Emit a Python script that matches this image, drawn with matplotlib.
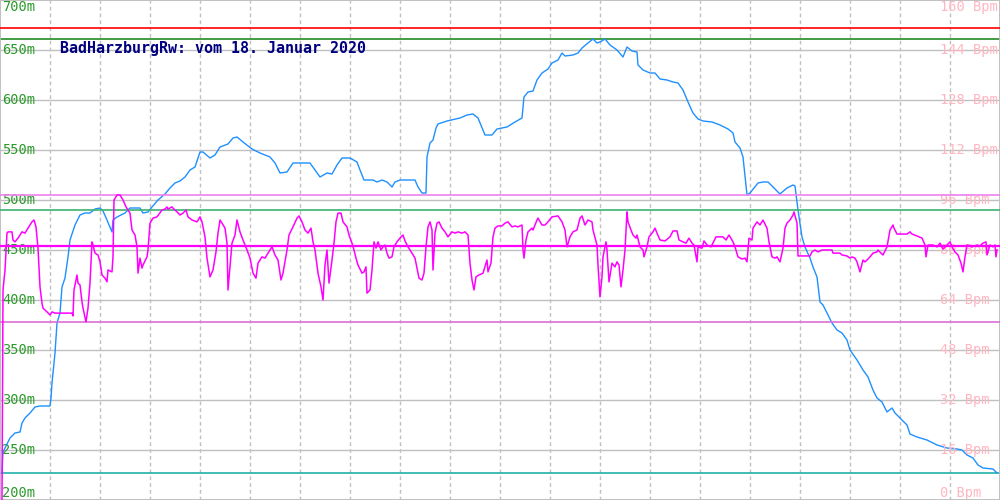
import numpy as np
import matplotlib
matplotlib.use('Agg')
import matplotlib.pyplot as plt

# elevation track (sample position, metres)
elev_x = [2, 3, 10, 15, 20, 22, 25, 30, 35, 40, 50, 51, 52, 55, 57, 60, 62, 65, 68, 70, 75, 80, 85, 90, 95,
          100, 103, 107, 112, 113, 117, 125, 130, 140, 143, 148, 152, 158, 165, 170, 175, 180, 185, 190, 195,
          200, 203, 210, 215, 220, 228, 233, 237, 243, 252, 260, 270, 275, 280, 287, 293, 300, 310, 315, 320,
          327, 332, 337, 342, 350, 357, 360, 364, 373, 377, 382, 387, 392, 395, 400, 415, 418, 422, 426, 427,
          430, 433, 436, 438, 447, 460, 467, 473, 478, 483, 485, 492, 497, 507, 515, 522, 524, 528, 533, 537,
          542, 548, 552, 558, 562, 565, 573, 578, 582, 588, 593, 597, 600, 605, 610, 617, 623, 627, 632, 637,
          638, 643, 650, 655, 660, 667, 673, 678, 683, 688, 693, 698, 703, 712, 720, 728, 733, 735, 740, 743,
          747, 750, 758, 763, 768, 773, 780, 787, 793, 795, 798, 802, 805, 810, 813, 817, 820, 823, 827, 832,
          837, 842, 847, 850, 857, 863, 868, 873, 877, 882, 887, 892, 895, 900, 907, 910, 917, 927, 937, 947,
          957, 962, 967, 973, 978, 983, 993, 997]
elev_m = [227, 248, 262, 267, 268, 277, 282, 287, 293, 294, 294, 302, 317, 347, 377, 387, 413, 422, 443, 460,
          475, 485, 487, 487, 491, 492, 489, 480, 468, 480, 483, 487, 492, 492, 487, 488, 493, 500, 506, 512,
          517, 519, 523, 530, 533, 548, 548, 542, 545, 553, 556, 562, 563, 558, 551, 547, 543, 537, 527, 528,
          537, 537, 537, 530, 523, 527, 526, 535, 542, 542, 538, 530, 520, 520, 518, 520, 518, 513, 518, 520,
          520, 513, 507, 507, 543, 557, 560, 572, 576, 579, 582, 585, 586, 582, 570, 565, 565, 571, 573, 578,
          582, 603, 608, 609, 620, 627, 631, 637, 640, 647, 644, 645, 647, 652, 657, 661, 657, 658, 661, 655,
          650, 643, 653, 649, 648, 635, 630, 627, 627, 621, 620, 618, 617, 610, 598, 587, 581, 579, 578, 575,
          571, 567, 558, 552, 543, 505, 507, 517, 518, 518, 513, 506, 512, 515, 514, 490, 463, 453, 442, 433,
          423, 398, 395, 387, 377, 370, 367, 360, 350, 340, 330, 323, 310, 302, 298, 288, 292, 287, 282, 275,
          266, 263, 260, 255, 252, 251, 250, 245, 242, 235, 232, 231, 227]

# heart rate (sample position, Bpm)
hr_x = [2, 3, 5, 7, 8, 12, 13, 15, 18, 22, 25, 28, 32, 34, 36, 38, 40, 42, 43, 47, 50, 52, 55, 72, 73, 74, 77,
        78, 80, 82, 83, 86, 88, 90, 92, 93, 95, 98, 100, 102, 105, 107, 108, 112, 113, 114, 117, 120, 123, 126,
        130, 132, 135, 137, 138, 140, 142, 143, 147, 148, 150, 153, 157, 162, 165, 167, 168, 172, 173, 177, 180,
        183, 186, 188, 192, 197, 200, 202, 205, 207, 210, 213, 216, 218, 220, 222, 225, 227, 228, 230, 232, 235,
        237, 240, 243, 247, 250, 253, 256, 258, 262, 265, 268, 272, 275, 278, 281, 283, 287, 289, 293, 297, 299,
        302, 305, 308, 311, 313, 315, 318, 321, 323, 325, 327, 329, 332, 334, 336, 338, 341, 343, 347, 349, 352,
        354, 356, 358, 362, 364, 366, 367, 370, 372, 374, 376, 378, 381, 383, 385, 387, 389, 392, 394, 397, 401,
        403, 405, 408, 412, 415, 417, 419, 422, 424, 426, 428, 430, 432, 433, 435, 437, 439, 442, 445, 448, 452,
        455, 458, 462, 465, 468, 470, 472, 474, 476, 479, 483, 487, 488, 491, 493, 495, 498, 502, 505, 508, 512,
        515, 518, 522, 523, 524, 526, 528, 532, 533, 537, 538, 542, 545, 548, 552, 558, 562, 565, 567, 570, 573,
        577, 580, 582, 585, 588, 592, 593, 597, 598, 600, 602, 603, 606, 607, 609, 612, 615, 617, 619, 621, 623,
        625, 627, 628, 631, 633, 636, 637, 640, 643, 644, 647, 649, 653, 655, 657, 660, 665, 670, 673, 677, 679,
        683, 686, 689, 692, 694, 697, 698, 702, 704, 707, 711, 716, 723, 726, 729, 733, 735, 738, 742, 745, 747,
        749, 752, 753, 757, 760, 763, 767, 769, 772, 775, 777, 780, 783, 785, 787, 790, 793, 794, 797, 798, 810,
        812, 815, 818, 822, 832, 833, 840, 842, 847, 850, 852, 855, 857, 860, 863, 865, 867, 870, 873, 877, 878,
        881, 883, 887, 890, 893, 894, 897, 907, 910, 912, 917, 922, 925, 926, 928, 933, 937, 940, 943, 950, 952,
        955, 958, 961, 963, 965, 967, 972, 977, 980, 983, 986, 987, 990, 993, 995, 996, 997]
hr_bpm = [0.0, 67.2, 73.6, 85.4, 85.8, 85.8, 83.2, 82.6, 83.8, 85.8, 85.4, 87.0, 89.0, 89.6, 87.4, 80.6, 68.2,
          63.0, 61.4, 60.2, 59.2, 60.2, 59.8, 59.8, 58.9, 67.2, 72.0, 69.4, 68.8, 63.4, 61.4, 57.0, 61.4, 69.4,
          82.6, 81.6, 79.0, 78.4, 76.2, 72.0, 71.0, 69.8, 73.6, 73.0, 77.8, 96.0, 97.6, 97.6, 96.0, 93.8, 91.8,
          86.4, 84.8, 81.0, 72.6, 77.4, 74.2, 75.2, 77.8, 80.0, 88.6, 90.2, 90.6, 92.8, 93.1, 93.8, 93.1, 93.8,
          93.4, 92.2, 91.2, 91.8, 92.8, 90.6, 89.6, 89.0, 90.6, 89.0, 84.2, 77.4, 71.4, 73.6, 79.4, 85.4, 89.6,
          88.6, 87.0, 82.2, 67.2, 74.6, 82.2, 84.8, 89.6, 85.8, 83.2, 80.0, 77.4, 72.6, 71.0, 75.8, 77.8, 77.4,
          79.0, 81.0, 78.4, 76.8, 70.4, 72.6, 80.0, 84.8, 87.4, 90.2, 90.9, 89.0, 86.4, 85.4, 87.0, 82.6, 80.0,
          72.6, 68.2, 64.0, 75.2, 80.0, 69.4, 76.8, 82.2, 89.0, 91.8, 91.8, 89.0, 87.4, 84.8, 82.2, 80.0, 77.4,
          75.2, 72.6, 73.0, 74.6, 66.2, 67.2, 73.6, 82.6, 80.6, 82.6, 80.0, 81.0, 81.6, 79.0, 77.4, 77.8, 81.0,
          82.6, 84.2, 84.8, 82.9, 81.0, 79.0, 77.4, 74.2, 71.0, 70.4, 72.6, 81.0, 87.4, 89.0, 86.4, 73.6, 85.4,
          88.6, 89.0, 87.0, 85.8, 84.2, 85.8, 85.4, 85.8, 85.4, 85.8, 84.8, 75.8, 70.4, 67.2, 71.4, 72.0, 72.6,
          76.8, 73.0, 75.8, 84.2, 87.0, 87.7, 87.7, 88.6, 89.0, 87.4, 87.7, 87.4, 88.0, 80.0, 77.4, 83.2, 85.8,
          87.0, 86.4, 89.6, 90.2, 88.0, 88.0, 89.0, 90.6, 90.9, 89.0, 86.4, 81.0, 84.2, 85.8, 86.4, 90.2, 90.9,
          88.0, 89.6, 89.0, 86.4, 81.6, 75.2, 65.0, 71.4, 77.8, 82.6, 80.0, 69.8, 75.8, 74.6, 76.2, 75.2, 68.2,
          73.6, 80.0, 92.2, 89.0, 86.4, 84.8, 83.8, 84.8, 81.0, 80.0, 77.8, 81.0, 84.2, 85.8, 87.0, 85.4, 83.2,
          82.9, 84.2, 86.1, 86.1, 83.2, 82.6, 82.2, 83.8, 82.2, 81.6, 76.2, 81.0, 80.6, 82.9, 81.6, 81.0, 84.2,
          84.2, 83.2, 84.8, 82.6, 81.0, 77.8, 77.1, 77.4, 76.2, 83.8, 83.2, 87.0, 89.0, 88.0, 89.6, 87.0, 82.6,
          77.8, 77.4, 77.8, 76.2, 80.6, 87.0, 88.6, 89.6, 91.2, 92.2, 88.6, 78.1, 78.1, 79.4, 80.0, 79.4, 80.0,
          80.0, 79.0, 79.0, 78.4, 78.1, 77.4, 77.8, 77.4, 76.2, 73.0, 76.8, 76.2, 76.8, 77.8, 79.0, 79.4, 80.0,
          79.0, 78.4, 81.0, 86.4, 88.0, 87.0, 85.1, 85.1, 85.8, 85.1, 84.5, 83.8, 81.6, 77.8, 81.6, 81.6, 81.0,
          82.2, 80.3, 82.6, 81.0, 79.4, 78.4, 75.8, 73.0, 77.8, 81.6, 81.0, 81.6, 81.3, 82.2, 82.6, 78.4, 81.6,
          81.0, 81.6, 77.8, 80.0]

elev_ticks = [700, 650, 600, 550, 500, 450, 400, 350, 300, 250, 200]
bpm_ticks = [160, 144, 128, 112, 96, 80, 64, 48, 32, 16, 0]
title = 'BadHarzburgRw: vom 18. Januar 2020'

# reference levels
hr_top = 151.0
hr_zone = 92.8
hr_avg = 81.3
hr_min = min(v for v in hr_bpm if v > 0)
hr_max = max(hr_bpm)
elev_max = max(elev_m)
elev_min = min(elev_m)

mono = 'DejaVu Sans Mono'
grid_c = '#c0c0c0'

fig = plt.figure(figsize=(10, 5), dpi=100)
ax = fig.add_axes([0, 0, 1, 1])
ax.set_xlim(0, 1000)
ax.set_ylim(200, 700)
ax2 = ax.twinx()
ax2.set_ylim(0, 160)
for a in (ax, ax2):
    a.set_xticks([])
    a.set_yticks([])
    for s in a.spines.values():
        s.set_color(grid_c)
        s.set_linewidth(1.2)

for v in elev_ticks[1:-1]:
    ax.axhline(v, color=grid_c, lw=1.0, zorder=1)
for xv in range(50, 1000, 50):
    ax.axvline(xv, color=grid_c, lw=1.0, ls=(0, (2.7, 2.2)), zorder=1)

# labels
yt = ax.get_yaxis_transform()
for v in elev_ticks:
    va = 'top' if v == 700 else ('bottom' if v == 200 else 'center')
    ax.text(0.002, v, '%dm' % v, transform=yt, color='#2a9a2a', family=mono,
            fontsize=9.8, va=va, ha='left', zorder=2)
yt2 = ax2.get_yaxis_transform()
for v in bpm_ticks:
    va = 'top' if v == 160 else ('bottom' if v == 0 else 'center')
    ax2.text(0.94, v, '%d Bpm' % v, transform=yt2, color='#ffb6c1', family=mono,
             fontsize=9.8, va=va, ha='left', zorder=2)

ax.text(0.06, 652, title, transform=yt, color='#000080', family=mono,
        fontsize=10.8, fontweight='bold', va='center', ha='left', zorder=5)

# horizontal reference lines
ax2.axhline(hr_top, color='#ff0000', lw=1.2, zorder=3)
ax.axhline(elev_max, color='#228b22', lw=1.2, zorder=3)
ax2.axhline(hr_zone, color='#3cb371', lw=1.2, zorder=3)
ax2.axhline(hr_max, color='#ee82ee', lw=1.2, zorder=3)
ax2.axhline(hr_avg, color='#ff00ff', lw=1.6, zorder=3)
ax2.axhline(hr_min, color='#da70d6', lw=1.2, zorder=3)
ax.axhline(elev_min, color='#20b2aa', lw=1.2, zorder=3)

ax.plot(elev_x, elev_m, color='#1e90ff', lw=1.0, zorder=4)
ax2.plot(hr_x, hr_bpm, color='#ff00ff', lw=1.1, zorder=4)

fig.savefig('out.png', dpi=100)
plt.close()
